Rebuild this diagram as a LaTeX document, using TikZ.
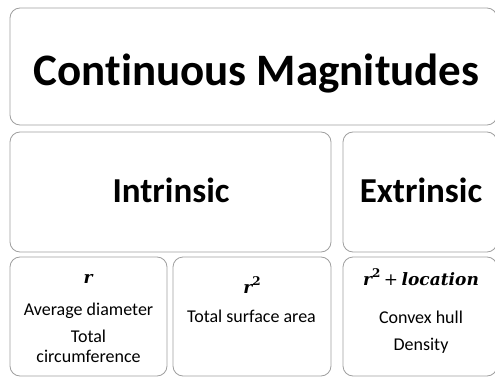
\documentclass[tikz,border=0pt]{standalone}
\usepackage{fontspec}
\setmainfont{Carlito}[Ligatures=NoCommon]
\newfontfamily\varfont{DejaVu Serif}
\usetikzlibrary{positioning}
\newcommand{\bvar}[1]{{\varfont\bfseries\itshape #1}}
\newcommand{\bsq}{\raisebox{0.42em}{\varfont\bfseries\fontsize{12}{13}\selectfont 2}}

\begin{document}
\begin{tikzpicture}[
  x=1pt, y=-1pt,
  box/.style={draw=gray!75, line width=0.8pt, rounded corners=10pt, inner sep=0pt},
  lbl/.style={anchor=base, inner sep=0pt},
  big/.style={lbl, font=\fontsize{45}{54}\selectfont\bfseries},
  mid/.style={lbl, font=\fontsize{35}{42}\selectfont\bfseries},
  small/.style={lbl, font=\fontsize{18}{21}\selectfont},
  mth/.style={lbl, font=\fontsize{17}{20}\selectfont}
]
  \useasboundingbox (0,0) rectangle (495,377);

  % boxes
  \node[box, minimum width=487pt, minimum height=117pt] (top) at (253.5,66.5) {};
  \node[box, minimum width=321pt, minimum height=120pt] (intr) at (170.5,192) {};
  \node[box, minimum width=154pt, minimum height=120pt] (extr) at (420,192) {};
  \node[box, minimum width=157pt, minimum height=119pt] (rbox) at (88.5,316.5) {};
  \node[box, minimum width=158pt, minimum height=119pt] (rsq) at (252,316.5) {};
  \node[box, minimum width=154pt, minimum height=119pt] (rloc) at (420,316.5) {};

  % texts
  \node[big] (topt) at (256.5,86) {Continuous Magnitudes};
  \node[mid] (intrt) at (171,202) {Intrinsic};
  \node[mid] (extrt) at (421,202) {Extrinsic};

  \node[mth] (rt) at (88,283) {\bvar{r}};
  \node[small] (avg) at (88.5,315) {Average diameter};
  \node[small] (tot) at (88.5,342) {Total};
  \node[small] (circ) at (88.5,362) {circumference};

  \node[mth] (rsqt) at (252,293) {\bvar{r}\bsq};
  \node[small] (surf) at (251.5,322) {Total surface area};

  \node[mth] (rloct) at (421,285) {\bvar{r}\bsq\hspace{3.5pt}{\varfont+}\hspace{3.5pt}\bvar{location}};
  \node[small] (hull) at (421,323) {Convex hull};
  \node[small] (dens) at (421,350) {Density};
\end{tikzpicture}
\end{document}
